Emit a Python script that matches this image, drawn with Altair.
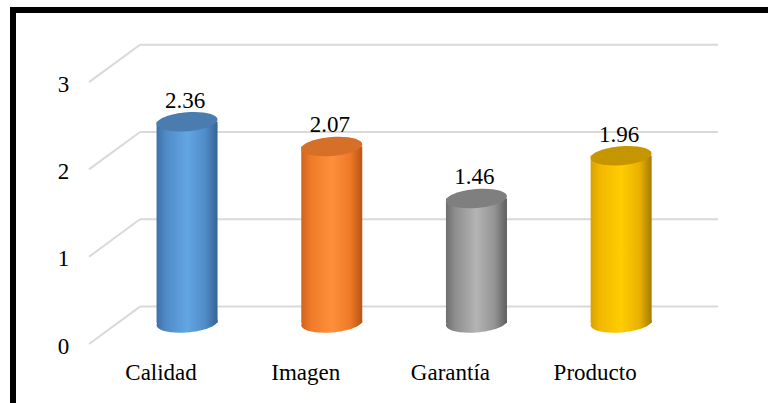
import altair as alt
import pandas as pd

# Mean score per dimension
categories = ["Calidad", "Imagen", "Garantía", "Producto"]
values = [2.36, 2.07, 1.46, 1.96]
ticks = [0, 1, 2, 3]

# Cylinder shading per dimension: side gradient stops and lid colour
side_stops = {
    "Calidad": ["#3f70a6", "#4f8ac6", "#62a6e4", "#4f8cc8", "#386392"],
    "Imagen": ["#d0631c", "#ef7a28", "#ff8f3a", "#ee7a28", "#b95412"],
    "Garantía": ["#6e6e6e", "#8e8e8e", "#b4b4b4", "#939393", "#5e5e5e"],
    "Producto": ["#d9a200", "#f2b800", "#ffcd00", "#eab200", "#a67a00"],
}
lid_colors = {
    "Calidad": "#4a7cb0",
    "Imagen": "#d66f28",
    "Garantía": "#7f7f7f",
    "Producto": "#c69600",
}
stop_offsets = [0.0, 0.15, 0.5, 0.8, 1.0]

bars = pd.DataFrame({"cat": categories, "value": values})
grid = pd.DataFrame({"tick": ticks})

FONT = "Liberation Serif"
FS = 23
W, H = 768, 403
CYL_W = 61          # cylinder diameter in px
DEPTH = 18.7        # half depth of the floor/back wall in px

# x: one band per dimension
x_scale = alt.Scale(domain=categories, range=[114.7, 693.5], paddingInner=0, paddingOuter=0)
# y for the cylinders (mid-depth plane)
y_bar = alt.Scale(domain=[0, 3], range=[323, 323 - 85.3 * 3], nice=False, zero=True)
# y for the gridlines / value axis (mid-depth plane of the walls)
y_grid = alt.Scale(domain=[0, 3], range=[325.3, 325.3 - 87.3 * 3], nice=False, zero=True)


def ellipse_path(r=0.31, s=0.075, k=0.5523):
    """Sheared ellipse in [-1, 1] units, right side raised (perspective lid)."""
    pts = [
        ("M", [(1, -s)]),
        ("C", [(1, k * r - s), (k, r - s * k), (0, r)]),
        ("C", [(-k, r + s * k), (-1, k * r + s), (-1, s)]),
        ("C", [(-1, -k * r + s), (-k, -r + s * k), (0, -r)]),
        ("C", [(k, -r - s * k), (1, -k * r - s), (1, -s)]),
    ]
    out = []
    for cmd, ps in pts:
        out.append(cmd + " " + " ".join(f"{px:.4f} {py:.4f}" for px, py in ps))
    return " ".join(out) + " Z"


LID = ellipse_path()


def side_gradient(cat):
    return alt.LinearGradient(
        gradient="linear",
        x1=0, x2=1, y1=0, y2=0,
        stops=[alt.GradientStop(offset=o, color=c) for o, c in zip(stop_offsets, side_stops[cat])],
    )


layers = []

# Border (left and top edges)
frame = alt.Data(values=[{}])
layers.append(
    alt.Chart(frame).mark_rect(color="black").encode(
        x=alt.value(10), x2=alt.value(16), y=alt.value(7), y2=alt.value(H)
    )
)
layers.append(
    alt.Chart(frame).mark_rect(color="black").encode(
        x=alt.value(10), x2=alt.value(W), y=alt.value(7), y2=alt.value(13)
    )
)

# Back-wall gridlines
layers.append(
    alt.Chart(grid).mark_rule(color="#d9d9d9", strokeWidth=2, yOffset=-DEPTH).encode(
        x=alt.value(140), x2=alt.value(718),
        y=alt.Y("tick:Q", scale=y_grid, axis=None),
    )
)
# Side-wall diagonals
layers.append(
    alt.Chart(grid).mark_rule(color="#d9d9d9", strokeWidth=2, yOffset=DEPTH, y2Offset=-DEPTH).encode(
        x=alt.value(89), x2=alt.value(140),
        y=alt.Y("tick:Q", scale=y_grid, axis=None),
        y2=alt.Y2("tick:Q"),
    )
)
# Value axis labels
layers.append(
    alt.Chart(grid).mark_text(
        font=FONT, fontSize=FS, color="black", align="center", baseline="alphabetic",
        dy=DEPTH + 9.5,
    ).encode(
        x=alt.value(63.5),
        y=alt.Y("tick:Q", scale=y_grid, axis=None),
        text=alt.Text("tick:Q"),
    )
)

# Cylinders
for cat in categories:
    base = alt.Chart(bars).transform_filter(alt.datum.cat == cat)
    grad = side_gradient(cat)
    # bottom rim
    layers.append(
        base.mark_point(shape=LID, size=CYL_W ** 2, filled=True, fill=grad, opacity=1, strokeWidth=0).encode(
            x=alt.X("cat:N", scale=x_scale, axis=None),
            y=alt.Y("zero:Q", scale=y_bar, axis=None),
        ).transform_calculate(zero="0")
    )
    # side
    layers.append(
        base.mark_bar(size=CYL_W, fill=grad, strokeWidth=0).encode(
            x=alt.X("cat:N", scale=x_scale, axis=None),
            y=alt.Y("value:Q", scale=y_bar, axis=None),
        )
    )
    # lid
    layers.append(
        base.mark_point(shape=LID, size=CYL_W ** 2, filled=True, fill=lid_colors[cat], opacity=1, strokeWidth=0).encode(
            x=alt.X("cat:N", scale=x_scale, axis=None),
            y=alt.Y("value:Q", scale=y_bar, axis=None),
        )
    )

# Value labels above each cylinder
layers.append(
    alt.Chart(bars).mark_text(
        font=FONT, fontSize=FS, color="black", align="center", baseline="alphabetic", dy=-14, dx=-2,
    ).encode(
        x=alt.X("cat:N", scale=x_scale, axis=None),
        y=alt.Y("value:Q", scale=y_bar, axis=None),
        text=alt.Text("value:Q", format=".2f"),
    )
)

# Category labels along the front edge of the floor
layers.append(
    alt.Chart(bars).mark_text(
        font=FONT, fontSize=FS, color="black", align="center", baseline="alphabetic", xOffset=-26,
    ).encode(
        x=alt.X("cat:N", scale=x_scale, axis=None),
        y=alt.value(380),
        text="cat:N",
    )
)

chart = (
    alt.layer(*layers)
    .resolve_scale(y="independent")
    .properties(width=W, height=H, padding=0, autosize=alt.AutoSizeParams(type="none"), background="white")
    .configure_view(strokeWidth=0)
)

chart.save("out.html", embed_options={"renderer": "svg", "actions": False})
